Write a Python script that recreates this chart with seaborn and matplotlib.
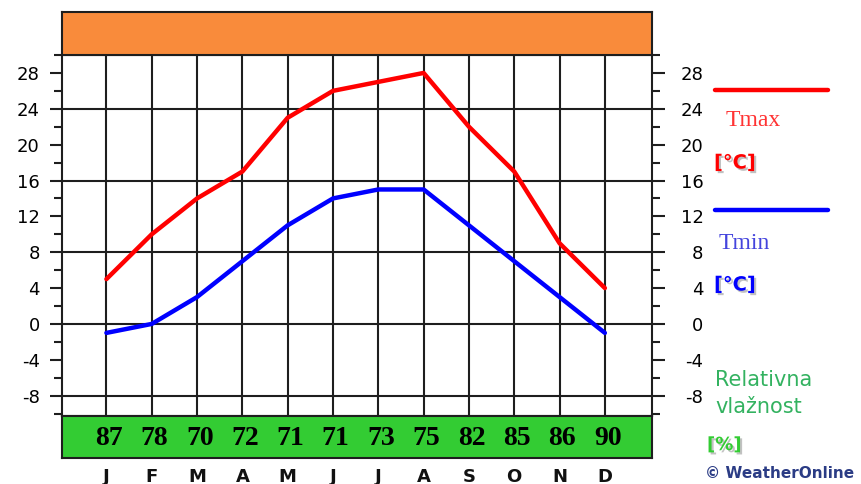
import matplotlib
matplotlib.use("Agg")
import matplotlib.pyplot as plt
import matplotlib.patheffects as pe
from matplotlib.lines import Line2D
from matplotlib.ticker import MultipleLocator
import seaborn as sns
import pandas as pd

# ---- data ----
months = ["J", "F", "M", "A", "M", "J", "J", "A", "S", "O", "N", "D"]
tmax = [5, 10, 14, 17, 23, 26, 27, 28, 22, 17, 9, 4]
tmin = [-1, 0, 3, 7, 11, 14, 15, 15, 11, 7, 3, -1]
humidity = [87, 78, 70, 72, 71, 71, 73, 75, 82, 85, 86, 90]
yticks = [-8, -4, 0, 4, 8, 12, 16, 20, 24, 28]
grid_y = [-8, 0, 8, 16, 24]

sns.set_theme(style="white")
plt.rcParams['font.family'] = ['DejaVu Sans']
plt.rcParams['axes.unicode_minus'] = False

W, H = 861, 484
fig = plt.figure(figsize=(W / 100, H / 100), dpi=100)
fig.patch.set_facecolor("white")


def fx(px):
    return px / W


def fy(py):
    return 1 - py / H


def box(x0, y0, x1, y1):
    return [fx(x0), fy(y1), fx(x1) - fx(x0), fy(y0) - fy(y1)]


XL = (-0.98, 12.04)
GRID_C = "#1e1e1e"

# ---- main axes ----
ax = fig.add_axes(box(62, 55, 652, 416))
df = pd.DataFrame({"idx": list(range(len(months))), "tmax": tmax, "tmin": tmin})
ax.set_xlim(*XL)
ax.set_ylim(-10.27, 30.0)
for g in grid_y:
    ax.axhline(g, color=GRID_C, lw=1.5, zorder=1)
ax.set_xticks(range(len(months)))
ax.grid(axis="x", color=GRID_C, lw=1.5, zorder=1)
ax.set_axisbelow(True)
sns.lineplot(data=df, x="idx", y="tmax", color="#FF0000", lw=3.2, ax=ax, zorder=3)
sns.lineplot(data=df, x="idx", y="tmin", color="#0000FF", lw=3.2, ax=ax, zorder=3)
ax.set_xlabel("")
ax.set_ylabel("")
ax.set_xticklabels([])
ax.tick_params(axis="x", length=0)
ax.set_yticks(yticks)
ax.yaxis.set_minor_locator(MultipleLocator(2))
ax.tick_params(axis="y", which="major", direction="out", length=9, width=1.5,
               color=GRID_C, pad=7, labelsize=13, labelcolor="black",
               left=True, right=False)
ax.tick_params(axis="y", which="minor", direction="out", length=6, width=1.5,
               color=GRID_C, left=True, right=False)
for s in ax.spines.values():
    s.set_color(GRID_C)
    s.set_linewidth(1.5)

# right axis
ax2 = ax.twinx()
ax2.set_ylim(ax.get_ylim())
ax2.set_yticks(yticks)
ax2.yaxis.set_minor_locator(MultipleLocator(2))
ax2.tick_params(axis="y", which="major", direction="out", length=9, width=1.5,
                color=GRID_C, pad=28, labelsize=13, labelcolor="black")
ax2.tick_params(axis="y", which="minor", direction="out", length=6, width=1.5,
                color=GRID_C)
for t in ax2.get_yticklabels():
    t.set_horizontalalignment("right")
for s in ax2.spines.values():
    s.set_visible(False)

# ---- orange top band ----
axo = fig.add_axes(box(62, 12, 652, 55))
axo.set_facecolor("#F98B3B")
axo.set_xticks([])
axo.set_yticks([])
for s in axo.spines.values():
    s.set_color(GRID_C)
    s.set_linewidth(1.5)

# ---- green humidity band ----
axg = fig.add_axes(box(62, 416, 652, 458))
axg.set_facecolor("#33CC33")
axg.set_xlim(*XL)
axg.set_ylim(0, 1)
axg.set_yticks([])
axg.set_xticks(range(len(months)))
axg.set_xticklabels(months, fontsize=13, fontweight="bold", color="#111111")
axg.tick_params(axis="x", length=0, pad=7)
for i, h in enumerate(humidity):
    axg.text(i + 0.06, 0.47, str(h), ha="center", va="center",
             fontsize=20, fontweight="bold", family="Liberation Serif",
             color="black")
for s in axg.spines.values():
    s.set_color(GRID_C)
    s.set_linewidth(1.5)

# ---- legend area ----
shadow = [pe.withSimplePatchShadow(offset=(1.5, -1.5), shadow_rgbFace="#999999", alpha=0.6)]
fig.add_artist(Line2D([fx(715), fx(828)], [fy(90), fy(90)], color="#FF0000", lw=3.2))
fig.text(fx(726), fy(120), "Tmax", color="#FF3333", fontsize=17,
         family="Liberation Serif", va="center", ha="left")
fig.text(fx(714), fy(163), "[°C]", color="#FF0000", fontsize=14, fontweight="bold",
         va="center", ha="left", path_effects=shadow)
fig.add_artist(Line2D([fx(715), fx(828)], [fy(210), fy(210)], color="#0000FF", lw=3.2))
fig.text(fx(719), fy(243), "Tmin", color="#4444DD", fontsize=17,
         family="Liberation Serif", va="center", ha="left")
fig.text(fx(714), fy(285), "[°C]", color="#0000FF", fontsize=14, fontweight="bold",
         va="center", ha="left", path_effects=shadow)
fig.text(fx(715), fy(380), "Relativna", color="#33B260", fontsize=15,
         va="center", ha="left")
fig.text(fx(715), fy(407), "vlažnost", color="#33B260", fontsize=15,
         va="center", ha="left")
fig.text(fx(707), fy(445), "[%]", color="#33CC33", fontsize=13, fontweight="bold",
         va="center", ha="left", path_effects=shadow)
fig.text(fx(705), fy(473), "© WeatherOnline", color="#2B3C85", fontsize=11,
         fontweight="bold", va="center", ha="left")

fig.savefig("out.png", dpi=100)
